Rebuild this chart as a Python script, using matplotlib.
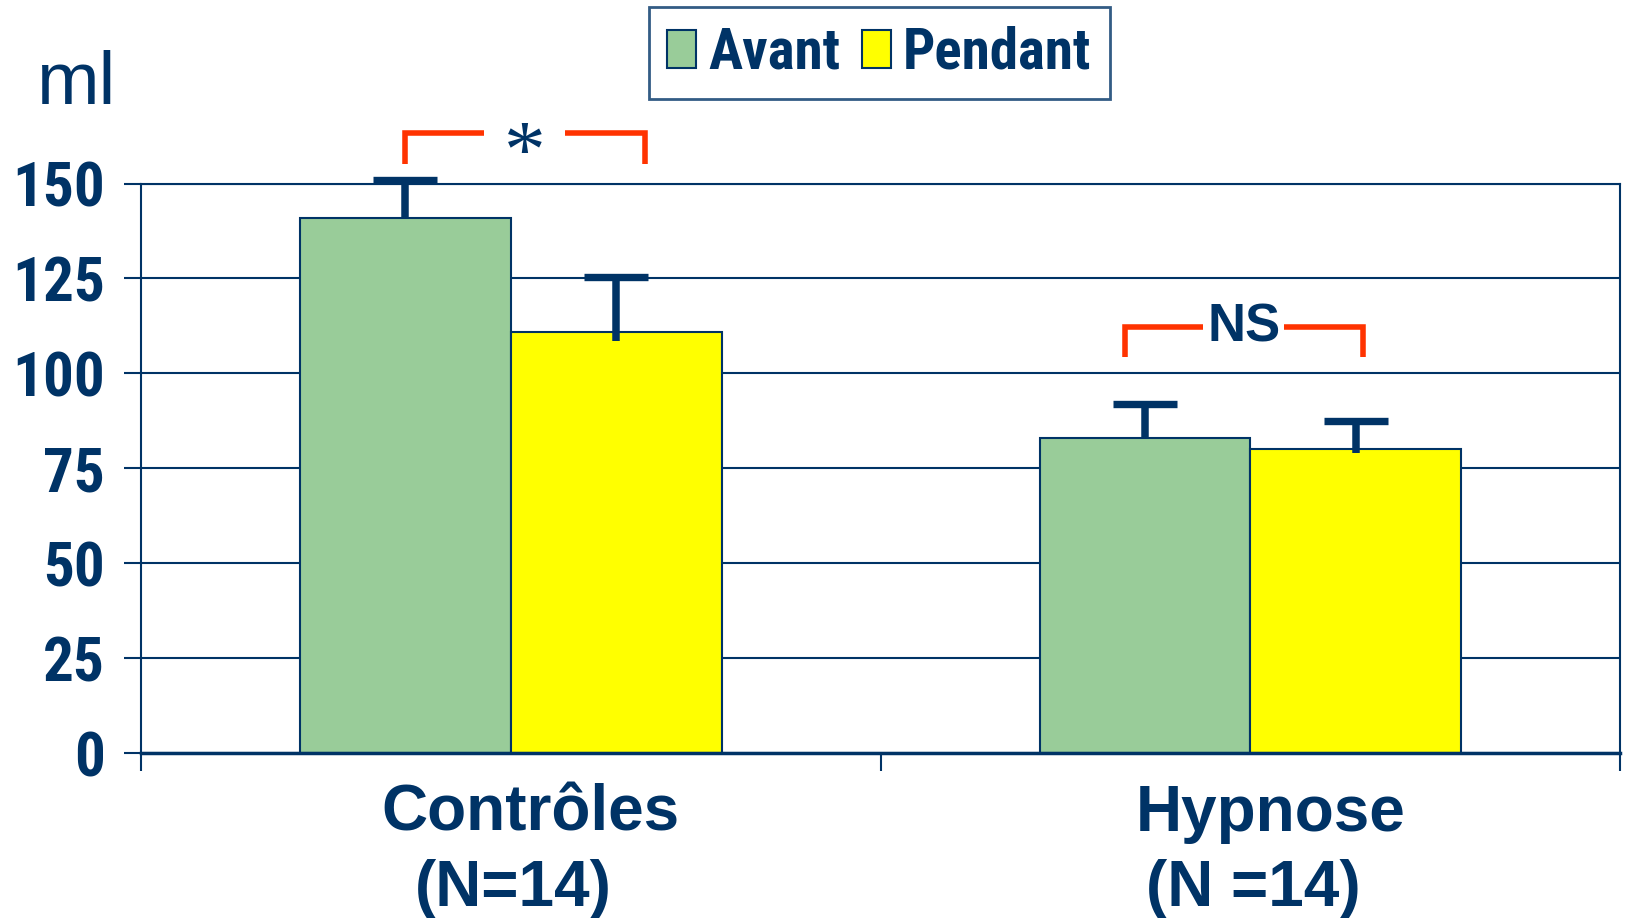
import numpy as np
import matplotlib.pyplot as plt
import matplotlib.patches as mpatches

# data
groups = ['Contrôles', 'Hypnose']
counts = ['(N=14)', '(N =14)']
series = ['Avant', 'Pendant']
avant = [141, 83]
pendant = [111, 80]
avant_err = [9.8, 9]
pendant_err = [14.5, 7.5]
pendant_low = [2.5, 1]
yticks = [0, 25, 50, 75, 100, 125, 150]

navy = '#003366'
green = '#99CC99'
yellow = '#FFFF00'
red = '#FF3300'
narrow = ['Roboto Condensed', 'PT Sans Narrow', 'DejaVu Sans']
wide = ['Liberation Sans', 'DejaVu Sans']

fig = plt.figure(figsize=(16.25, 9.18), dpi=100)
ax = fig.add_axes([0.0868, 0.1797, 0.9102, 0.6204])

centers = np.arange(len(groups)) + 0.5
w = 0.285
ax.bar(centers - w / 2, avant, w, color=green, edgecolor=navy, linewidth=1.5, zorder=2)
ax.bar(centers + w / 2, pendant, w, color=yellow, edgecolor=navy, linewidth=1.5, zorder=2)
for xs, vals, low, err in [(centers - w / 2, avant, [0, 0], avant_err),
                           (centers + w / 2, pendant, pendant_low, pendant_err)]:
    eb = ax.errorbar(xs, vals, yerr=[low, err], fmt='none', ecolor=navy,
                     elinewidth=5.4, capsize=23, capthick=5.3, zorder=3)
    eb[1][0].set_visible(False)  # no lower cap
    for a in list(eb[1]) + list(eb[2]):
        a.set_clip_on(False)

ax.set_xlim(0, 2)
ax.set_ylim(0, 150)
ax.set_yticks(yticks)
ax.set_yticklabels([str(t) for t in yticks], family=narrow, fontweight='bold',
                   fontsize=44, color=navy)
ax.yaxis.grid(True, color=navy, linewidth=1.5)
ax.set_axisbelow(True)
ax.tick_params(axis='y', length=12, width=1.5, color=navy, pad=14)

ax.set_xticks([0, 1, 2])
ax.set_xticklabels([])
ax.tick_params(axis='x', which='major', length=13, width=1.5, color=navy)

# category labels, two lines
for c, g, n in zip(centers, groups, counts):
    ax.text(c + 0.027, -20.5, g, ha='center', va='baseline', family=wide,
            fontweight='bold', fontsize=46, color=navy, clip_on=False)
    ax.text(c + 0.004, -40.3, n, ha='center', va='baseline', family=wide,
            fontweight='bold', fontsize=46, color=navy, clip_on=False)

for s in ax.spines.values():
    s.set_color(navy)
    s.set_linewidth(1.5)
ax.spines['bottom'].set_linewidth(2.5)

# significance brackets
def bracket(x0, x1, x2, x3, ytop, ybot):
    ax.plot([x0, x0, x1], [ybot, ytop, ytop], color=red, lw=4, clip_on=False,
            solid_capstyle='butt', solid_joinstyle='miter')
    ax.plot([x2, x3, x3], [ytop, ytop, ybot], color=red, lw=4, clip_on=False,
            solid_capstyle='butt', solid_joinstyle='miter')

bracket(0.357, 0.464, 0.573, 0.681, 163.3, 155.1)
ax.text(0.519, 157.0, '*', ha='center', va='center', fontsize=60,
        color=navy, family='Liberation Serif', clip_on=False)
bracket(1.330, 1.436, 1.545, 1.652, 112.3, 104.4)
ax.text(1.492, 112.0, 'NS', ha='center', va='center', fontsize=38,
        fontweight='bold', color=navy, family=wide)

fig.text(0.023, 0.887, 'ml', fontsize=54, color=navy, family=wide)

handles = [mpatches.Patch(facecolor=green, edgecolor=navy, linewidth=1.5),
           mpatches.Patch(facecolor=yellow, edgecolor=navy, linewidth=1.5)]
leg = fig.legend(handles, series, loc='upper center', bbox_to_anchor=(0.5412, 0.992),
                 ncol=2, frameon=True, fancybox=False, handlelength=0.5,
                 handleheight=0.65, handletextpad=0.22, columnspacing=0.38,
                 borderpad=0.32, borderaxespad=0,
                 prop={'family': narrow, 'weight': 'bold', 'size': 41})
leg.get_frame().set_edgecolor(navy)
leg.get_frame().set_linewidth(2)
for t in leg.get_texts():
    t.set_color(navy)

plt.savefig('out.png', dpi=100)
